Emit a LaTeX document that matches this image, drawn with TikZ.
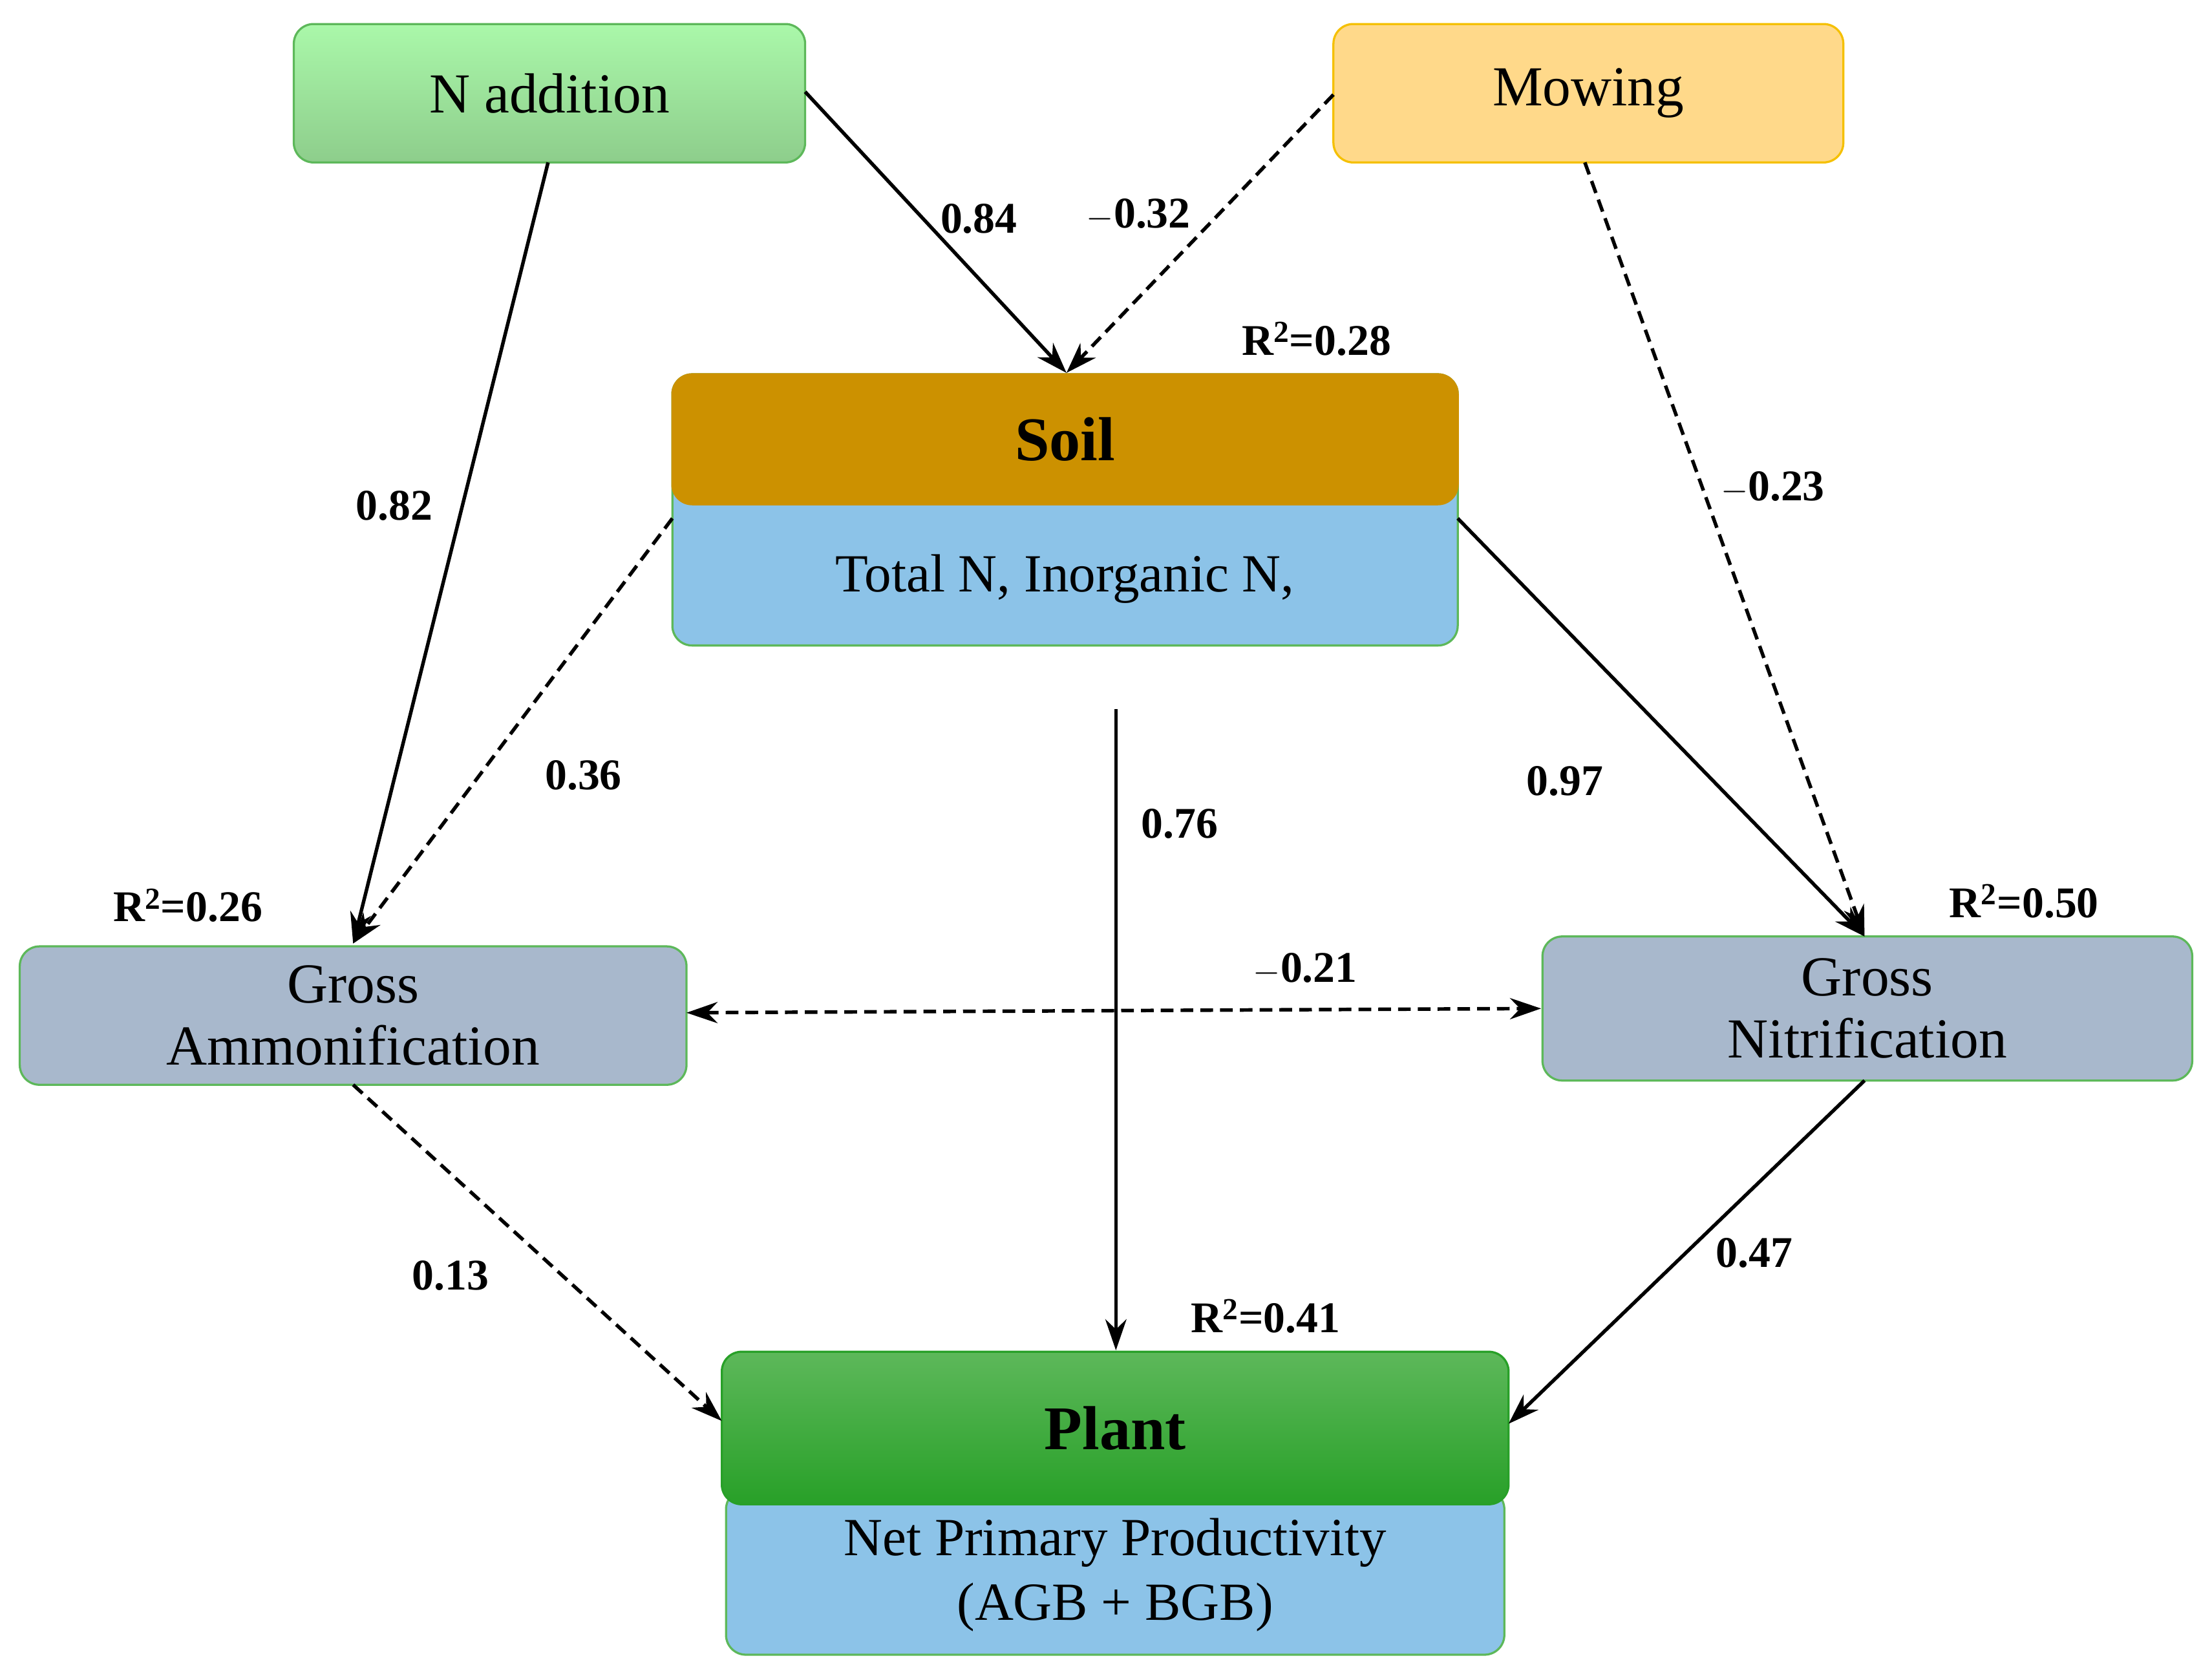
\documentclass[tikz,border=0pt]{standalone}
\usepackage{fontspec}
\setmainfont{Liberation Serif}
\usetikzlibrary{arrows.meta}
\definecolor{bgreen}{HTML}{5DB85A}
\definecolor{blueF}{HTML}{8CC3E8}
\definecolor{greyF}{HTML}{A8B8CC}
\definecolor{gold}{HTML}{CC9100}
\tikzset{
  box/.style={draw=bgreen, line width=1.5pt, rounded corners=14pt, inner sep=0pt, align=center, font=\fontsize{40}{44}\selectfont},
  lab/.style={font=\bfseries\fontsize{31}{34}\selectfont},
  arr/.style={line width=2.5pt, -{Stealth[length=22pt,width=15pt]}},
  dsh/.style={arr, dash pattern=on 9pt off 5pt},
}
\begin{document}
\begin{tikzpicture}[x=1pt,y=-1pt]
\useasboundingbox (0,0) rectangle (1566,1188);
% N addition
\node[box, top color=green!30!white!90!bgreen, bottom color=bgreen!70!white, minimum width=362pt, minimum height=98pt] (nadd) at (389,66) {N addition};
\node[box, draw={rgb,255:red,245;green,192;blue,0}, fill={rgb,255:red,255;green,217;blue,138}, minimum width=361pt, minimum height=98pt] (mow) at (1124.5,66) {Mowing};
% Soil
\node[box, fill=blueF, minimum width=556pt, minimum height=192pt] (soil) at (754,361) {};
\node[box, draw=gold, fill=gold, minimum width=556pt, minimum height=92pt, font=\bfseries\fontsize{44}{48}\selectfont] (soilt) at (754,311) {Soil};
\node[font=\fontsize{38}{42}\selectfont] (soilb) at (754,410) {Total N, Inorganic N,};
% Gross
\node[box, fill=greyF, minimum width=472pt, minimum height=98pt] (amm) at (250,719) {Gross\\Ammonification};
\node[box, fill=greyF, minimum width=460pt, minimum height=102pt] (nit) at (1322,714) {Gross\\Nitrification};
% Plant
\node[box, fill=blueF, minimum width=551pt, minimum height=117pt, text depth=0pt] (plantb) at (789.5,1113) {};
\node[box, top color=bgreen, bottom color={rgb,255:red,40;green,160;blue,40}, draw={rgb,255:red,40;green,160;blue,40}, minimum width=557pt, minimum height=108pt, font=\bfseries\fontsize{44}{48}\selectfont] (plant) at (789.5,1011) {Plant};
\node[font=\fontsize{38}{46}\selectfont, align=center] (npp) at (789.5,1115) {Net Primary Productivity\\(AGB + BGB)};
% arrows
\coordinate (sA) at (388,115); \coordinate (aT) at (250,668);
\coordinate (nR) at (570,65); \coordinate (sT) at (755,264);
\coordinate (mL) at (944,67); \coordinate (mB) at (1122,115);
\coordinate (nT) at (1320,663);
\coordinate (soL) at (476,367); \coordinate (soR) at (1032,367);
\coordinate (vS) at (790,502); \coordinate (pT) at (790,956);
\coordinate (aR) at (486,717); \coordinate (nL) at (1091,714);
\coordinate (aB) at (250,768); \coordinate (pL) at (511,1006);
\coordinate (nB) at (1320,765); \coordinate (pR) at (1068,1008);
\draw[arr] (sA) -- (aT);
\draw[arr] (nR) -- (sT);
\draw[dsh] (mL) -- (sT);
\draw[dsh] (mB) -- (nT);
\draw[dsh] (soL) -- (aT);
\draw[arr] (soR) -- (nT);
\draw[arr] (vS) -- (pT);
\draw[dsh, {Stealth[length=22pt,width=15pt]}-{Stealth[length=22pt,width=15pt]}] (aR) -- (nL);
\draw[dsh] (aB) -- (pL);
\draw[arr] (nB) -- (pR);
% labels
\node[lab] (l1) at (279,358) {0.82};
\node[lab] (l2) at (693,155) {0.84};
\node[lab] (l3) at (806,152) {$-$0.32};
\node[lab] (l4) at (1255,345) {$-$0.23};
\node[lab] (l5) at (413,549) {0.36};
\node[lab] (l6) at (1108,553) {0.97};
\node[lab] (l7) at (835,583) {0.76};
\node[lab] (l8) at (924,686) {$-$0.21};
\node[lab] (l9) at (319,903) {0.13};
\node[lab] (l10) at (1242,887) {0.47};
\node[lab] (r1) at (932,240) {R\textsuperscript{2}=0.28};
\node[lab] (r2) at (133,641) {R\textsuperscript{2}=0.26};
\node[lab] (r3) at (1433,638) {R\textsuperscript{2}=0.50};
\node[lab] (r4) at (896,932) {R\textsuperscript{2}=0.41};
\end{tikzpicture}
\end{document}
